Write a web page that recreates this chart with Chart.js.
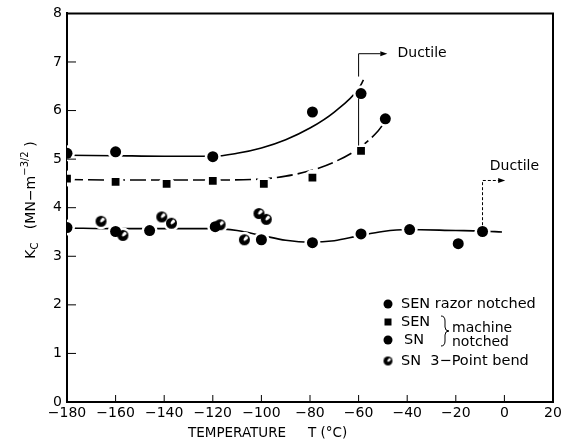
<!DOCTYPE html>
<html>
<head>
<meta charset="utf-8">
<script src="https://cdn.jsdelivr.net/npm/chart.js@4.4.1/dist/chart.umd.min.js"></script>
<style>
  body { margin: 0; background: #fff; }
  #chart { display: block; }
</style>
</head>
<body>
<canvas id="chart" width="568" height="445"></canvas>
<script>
// measured points, temperature in degC, Kc in MN m^-3/2
const razorT = [-180, -160, -120, -79, -59, -49];
const razorK = [5.12, 5.15, 5.05, 5.97, 6.35, 5.83];

const senMachT = [-180, -160, -139, -120, -99, -79, -59];
const senMachK = [4.6, 4.53, 4.49, 4.55, 4.49, 4.62, 5.17];

const snMachT = [-180, -160, -146, -119, -100, -79, -59, -39, -19, -9];
const snMachK = [3.59, 3.51, 3.53, 3.61, 3.34, 3.28, 3.46, 3.55, 3.26, 3.51];

const bendT = [-166, -157, -141, -137, -117, -107, -101, -98];
const bendK = [3.72, 3.43, 3.81, 3.68, 3.65, 3.34, 3.88, 3.76];

// hand drawn trend curves
const topCurveT = [-180, -160, -140, -120, -110, -100, -90, -80, -70, -60, -58];
const topCurveK = [5.08, 5.07, 5.06, 5.06, 5.12, 5.23, 5.4, 5.64, 5.97, 6.45, 6.63];

const midCurveT = [-180, -160, -140, -120, -100, -90, -80, -70, -60, -52, -49];
const midCurveK = [4.58, 4.57, 4.57, 4.57, 4.59, 4.65, 4.76, 4.94, 5.22, 5.58, 5.78];

const lowCurveT = [-180, -160, -140, -120, -110, -100, -90, -80, -70, -60, -50, -40, -20, -10, -1];
const lowCurveK = [3.58, 3.57, 3.57, 3.57, 3.53, 3.43, 3.33, 3.29, 3.32, 3.42, 3.51, 3.55, 3.53, 3.52, 3.5];

const xTicks = [-180, -160, -140, -120, -100, -80, -60, -40, -20, 0, 20];
const yTicks = [0, 1, 2, 3, 4, 5, 6, 7, 8];

const FONT = '"DejaVu Sans", sans-serif';

function pts(xs, ys) {
  return xs.map((x, i) => ({ x: x, y: ys[i] }));
}

// black dot with a white slash, for the 3-point bend specimens
function halfDot(r) {
  const c = document.createElement('canvas');
  const s = Math.ceil(r * 2 + 2);
  c.width = s; c.height = s;
  const g = c.getContext('2d');
  const m = s / 2;
  g.fillStyle = '#000';
  g.beginPath(); g.arc(m, m, r, 0, Math.PI * 2); g.fill();
  g.save();
  g.beginPath(); g.arc(m, m, r - 1.3, 0, Math.PI * 2); g.clip();
  g.fillStyle = '#fff';
  g.beginPath(); g.ellipse(m + r * 0.38, m - r * 0.38, r * 0.7, r * 0.28, -Math.PI / 4, 0, Math.PI * 2); g.fill();
  g.restore();
  return c;
}
const bendImg = halfDot(5.5);
const bendImgSmall = halfDot(4.5);

function curve(xs, ys, dash) {
  return {
    data: pts(xs, ys), showLine: true, pointRadius: 0,
    borderColor: '#000', borderWidth: 1.6, borderDash: dash,
    cubicInterpolationMode: 'monotone', order: 3
  };
}
function halo(xs, ys) {
  return {
    data: pts(xs, ys), showLine: false, pointStyle: 'circle',
    pointRadius: 8, pointBackgroundColor: '#fff', pointBorderWidth: 0, order: 2
  };
}
function marks(xs, ys, style, r) {
  return {
    data: pts(xs, ys), showLine: false, pointStyle: style, pointRadius: r,
    pointBackgroundColor: '#000', pointBorderColor: '#000', pointBorderWidth: 0, order: 1
  };
}

const overlay = {
  id: 'overlay',
  afterDraw(chart) {
    const ctx = chart.ctx;
    const xs = chart.scales.x, ys = chart.scales.y;
    const a = chart.chartArea;
    const px = v => xs.getPixelForValue(v);
    const py = v => ys.getPixelForValue(v);
    ctx.save();
    ctx.strokeStyle = '#000';
    ctx.fillStyle = '#000';

    // frame top and right
    ctx.lineWidth = 2;
    ctx.beginPath();
    ctx.moveTo(a.left - 1, a.top); ctx.lineTo(a.right, a.top); ctx.lineTo(a.right, a.bottom + 1);
    ctx.stroke();

    // inward tick marks
    ctx.lineWidth = 1;
    ctx.beginPath();
    xTicks.slice(1, -1).forEach(t => { ctx.moveTo(px(t), a.bottom); ctx.lineTo(px(t), a.bottom - 7); });
    yTicks.slice(1, -1).forEach(t => { ctx.moveTo(a.left, py(t)); ctx.lineTo(a.left + 9, py(t)); });
    ctx.stroke();

    // ductile markers
    ctx.lineWidth = 1;
    ctx.beginPath();
    ctx.moveTo(px(-60), py(6.7)); ctx.lineTo(px(-60), py(7.17)); ctx.lineTo(px(-51), py(7.17));
    ctx.moveTo(px(-60), py(6.25)); ctx.lineTo(px(-60), py(5.28));
    ctx.stroke();
    ctx.setLineDash([3, 2]);
    ctx.beginPath();
    ctx.moveTo(px(-9), py(3.64)); ctx.lineTo(px(-9), py(4.56)); ctx.lineTo(px(-2), py(4.56));
    ctx.stroke();
    ctx.setLineDash([]);
    function arrow(x, y) {
      ctx.beginPath(); ctx.moveTo(x + 2, y); ctx.lineTo(x - 5, y - 2.5); ctx.lineTo(x - 5, y + 2.5); ctx.closePath(); ctx.fill();
    }
    arrow(px(-49), py(7.17));
    arrow(px(-0.5), py(4.56));

    ctx.font = '14px ' + FONT;
    ctx.textBaseline = 'middle';
    ctx.textAlign = 'left';
    ctx.fillText('Ductile', px(-44), py(7.18));
    ctx.fillText('Ductile', px(-6), py(4.86));

    // legend
    const lx = 388;
    ctx.beginPath(); ctx.arc(lx, 304, 4.5, 0, Math.PI * 2); ctx.fill();
    ctx.fillRect(lx - 3.5, 318.5, 7, 7);
    ctx.beginPath(); ctx.arc(lx, 340, 4.5, 0, Math.PI * 2); ctx.fill();
    ctx.drawImage(bendImgSmall, lx - bendImgSmall.width / 2, 361 - bendImgSmall.height / 2);
    ctx.font = '14.5px ' + FONT;
    ctx.fillText('SEN razor notched', 401, 304);
    ctx.fillText('SEN', 401, 322);
    ctx.fillText('SN', 404, 340);
    ctx.fillText('SN  3\u2212Point bend', 401, 361);
    ctx.font = '14px ' + FONT;
    ctx.fillText('machine', 452, 328);
    ctx.fillText('notched', 452, 342);
    ctx.lineWidth = 1;
    ctx.beginPath();
    ctx.moveTo(441, 316); ctx.quadraticCurveTo(445, 316, 445, 321);
    ctx.lineTo(445, 327); ctx.quadraticCurveTo(445, 331, 449, 331);
    ctx.quadraticCurveTo(445, 331, 445, 335);
    ctx.lineTo(445, 341); ctx.quadraticCurveTo(445, 346, 441, 346);
    ctx.stroke();

    // x axis title
    ctx.font = '13.5px ' + FONT;
    ctx.textAlign = 'left';
    ctx.fillText('TEMPERATURE', 188, 433);
    ctx.fillText('T (\u00b0C)', 308, 433);

    // y axis title, rotated
    ctx.translate(31, 200);
    ctx.rotate(-Math.PI / 2);
    const big = '14px ' + FONT, small = '10px ' + FONT;
    const parts = [
      ['K', big, 0], ['C', small, 4], ['   (MN\u2212m', big, 0], ['\u22123/2', small, -6], [' )', big, 0]
    ];
    let w = 0;
    parts.forEach(p => { ctx.font = p[1]; w += ctx.measureText(p[0]).width; });
    let cx = -w / 2;
    parts.forEach(p => {
      ctx.font = p[1];
      ctx.fillText(p[0], cx, p[2]);
      cx += ctx.measureText(p[0]).width;
    });
    ctx.restore();
  }
};

new Chart(document.getElementById('chart'), {
  type: 'scatter',
  data: {
    datasets: [
      curve(topCurveT, topCurveK, []),
      curve(midCurveT, midCurveK, [16, 5]),
      curve(lowCurveT, lowCurveK, []),
      halo(razorT.concat(senMachT, snMachT, bendT), razorK.concat(senMachK, snMachK, bendK)),
      marks(razorT, razorK, 'circle', 5.5),
      marks(senMachT, senMachK, 'rect', 5.5),
      marks(snMachT, snMachK, 'circle', 5.5),
      marks(bendT, bendK, bendImg, 5.5)
    ]
  },
  options: {
    responsive: false,
    animation: false,
    devicePixelRatio: 1,
    layout: { padding: { left: 0, right: 15, top: 12, bottom: 0 } },
    plugins: { legend: { display: false }, tooltip: { enabled: false } },
    scales: {
      x: {
        type: 'linear', min: -180, max: 20,
        afterBuildTicks: s => { s.ticks = xTicks.map(v => ({ value: v })); },
        afterFit: s => { s.height = 43; },
        grid: { display: false, drawTicks: false },
        border: { display: true, color: '#000', width: 2 },
        ticks: {
          color: '#000', padding: 3, maxRotation: 0, autoSkip: false,
          font: { family: FONT, size: 14 },
          callback: v => String(v).replace('-', '\u2212')
        }
      },
      y: {
        min: 0, max: 8,
        afterBuildTicks: s => { s.ticks = yTicks.map(v => ({ value: v })); },
        afterFit: s => { s.width = 67; },
        grid: { display: false, drawTicks: false },
        border: { display: true, color: '#000', width: 2 },
        ticks: {
          color: '#000', padding: 5,
          font: { family: FONT, size: 14 }
        }
      }
    }
  },
  plugins: [overlay]
});
</script>
</body>
</html>
